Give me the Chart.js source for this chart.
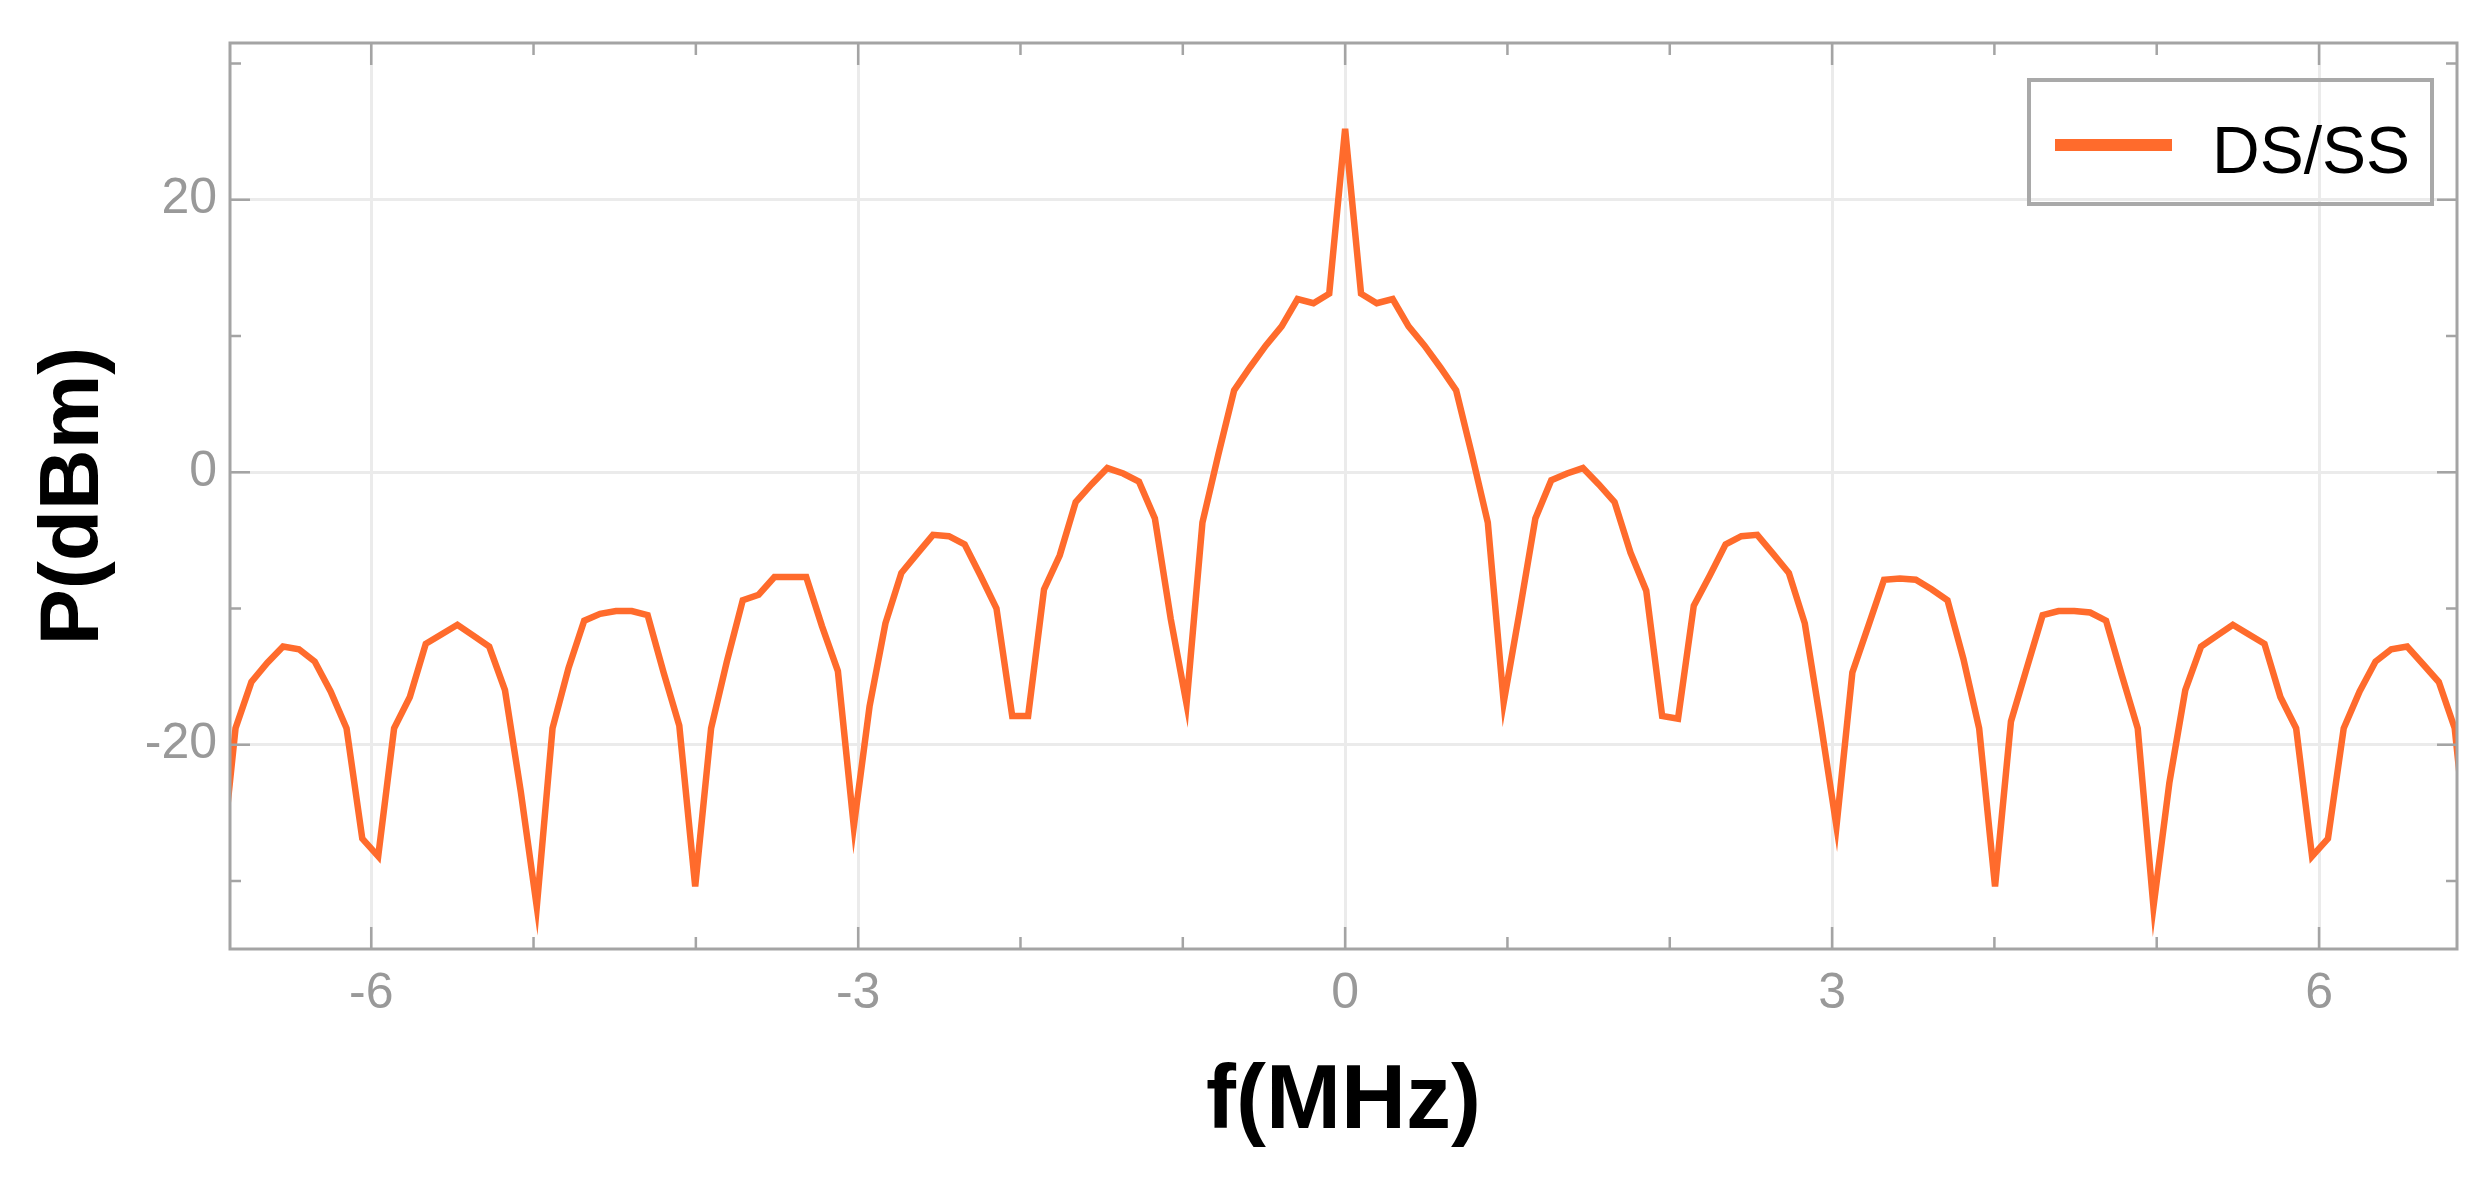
<!DOCTYPE html>
<html>
<head>
<meta charset="utf-8">
<title>DS/SS spectrum</title>
<script src="https://cdn.jsdelivr.net/npm/chart.js@4.4.1/dist/chart.umd.min.js"></script>
<style>
	html, body { margin: 0; padding: 0; background: #ffffff; }
	#chartBox { width: 2490px; height: 1177px; position: relative; }
</style>
</head>
<body>
<div id="chartBox"><canvas id="spectrumChart"></canvas></div>
<script>
"use strict";

const seriesLabel = "DS/SS";

// frequency bins (MHz)
const frequencies = [
	-6.934, -6.836, -6.738, -6.641, -6.543, -6.445, -6.348, -6.250, -6.152, -6.055,
	-5.957, -5.859, -5.762, -5.664, -5.566, -5.469, -5.371, -5.273, -5.176, -5.078,
	-4.980, -4.883, -4.785, -4.688, -4.590, -4.492, -4.395, -4.297, -4.199, -4.102,
	-4.004, -3.906, -3.809, -3.711, -3.613, -3.516, -3.418, -3.320, -3.223, -3.125,
	-3.027, -2.930, -2.832, -2.734, -2.637, -2.539, -2.441, -2.344, -2.246, -2.148,
	-2.051, -1.953, -1.855, -1.758, -1.660, -1.563, -1.465, -1.367, -1.270, -1.172,
	-1.074, -0.977, -0.879, -0.781, -0.684, -0.586, -0.488, -0.391, -0.293, -0.195,
	-0.098, 0,
	0.098, 0.195, 0.293, 0.391, 0.488, 0.586, 0.684, 0.781, 0.879, 0.977,
	1.074, 1.172, 1.270, 1.367, 1.465, 1.563, 1.660, 1.758, 1.855, 1.953,
	2.051, 2.148, 2.246, 2.344, 2.441, 2.539, 2.637, 2.734, 2.832, 2.930,
	3.027, 3.125, 3.223, 3.320, 3.418, 3.516, 3.613, 3.711, 3.809, 3.906,
	4.004, 4.102, 4.199, 4.297, 4.395, 4.492, 4.590, 4.688, 4.785, 4.883,
	4.980, 5.078, 5.176, 5.273, 5.371, 5.469, 5.566, 5.664, 5.762, 5.859,
	5.957, 6.055, 6.152, 6.250, 6.348, 6.445, 6.543, 6.641, 6.738, 6.836,
	6.934
];

// power (dBm) at each bin
const powers = [
	-30, -18.8, -15.4, -14.0, -12.8, -13.0, -13.9, -16.1, -18.8, -26.9,
	-28.2, -18.8, -16.5, -12.6, -11.9, -11.2, -12.0, -12.8, -16.0, -23.5,
	-31.9, -18.8, -14.4, -10.9, -10.4, -10.2, -10.2, -10.5, -14.7, -18.6,
	-30.4, -18.8, -13.9, -9.4, -9.0, -7.7, -7.7, -7.7, -11.3, -14.6,
	-26.0, -17.2, -11.1, -7.4, -6.0, -4.6, -4.7, -5.3, -7.6, -10.0,
	-17.9, -17.9, -8.6, -6.1, -2.2, -0.9, 0.3, -0.1, -0.7, -3.4,
	-10.8, -17.0, -3.7, 1.3, 6.0, 7.7, 9.3, 10.7, 12.7, 12.4,
	13.1, 25.2,
	13.1, 12.4, 12.7, 10.7, 9.3, 7.7, 6.0, 1.3, -3.7, -16.9,
	-10.3, -3.4, -0.6, -0.1, 0.3, -0.9, -2.2, -5.9, -8.7, -17.9,
	-18.1, -9.8, -7.6, -5.3, -4.7, -4.6, -6.0, -7.4, -11.1, -18.4,
	-26.0, -14.7, -11.3, -7.9, -7.8, -7.9, -8.6, -9.4, -13.7, -18.8,
	-30.4, -18.3, -14.4, -10.5, -10.2, -10.2, -10.3, -10.9, -14.9, -18.8,
	-31.9, -22.8, -16.0, -12.8, -12.0, -11.2, -11.9, -12.6, -16.5, -18.8,
	-28.2, -26.9, -18.8, -16.1, -13.9, -13.0, -12.8, -14.1, -15.4, -18.8,
	-30
];

const xRange = [-6.87, 6.85];
const yRange = [-35, 31.5];
const xMinorTicks = [-6, -5, -4, -3, -2, -1, 0, 1, 2, 3, 4, 5, 6];
const xMajorTicks = [-6, -3, 0, 3, 6];
const yMinorTicks = [-30, -20, -10, 0, 10, 20, 30];
const yMajorTicks = [-20, 0, 20];

const fontFamily = "'Liberation Sans', Arial, Helvetica, sans-serif";
const frameColor = "#a4a4a4";
const gridColor = "#ebebeb";
const tickLabelColor = "#999999";
const lineColor = "#ff6b2c";

const frameAndTicksPlugin = {
	id: "frameAndTicks",
	afterDraw: chart => {
		let ctx = chart.ctx;
		let area = chart.chartArea;
		let xScale = chart.scales.x;
		let yScale = chart.scales.y;
		ctx.save();
		ctx.strokeStyle = frameColor;
		ctx.lineWidth = 3;
		ctx.strokeRect(area.left, area.top, area.right - area.left, area.bottom - area.top);
		ctx.lineWidth = 2.5;
		ctx.beginPath();
		for (let value of xMinorTicks) {
			let x = xScale.getPixelForValue(value);
			let length = xMajorTicks.includes(value) ? 22 : 12;
			ctx.moveTo(x, area.bottom);
			ctx.lineTo(x, area.bottom - length);
			ctx.moveTo(x, area.top);
			ctx.lineTo(x, area.top + length);
		}
		for (let value of yMinorTicks) {
			let y = yScale.getPixelForValue(value);
			let length = yMajorTicks.includes(value) ? 20 : 11;
			ctx.moveTo(area.left, y);
			ctx.lineTo(area.left + length, y);
			ctx.moveTo(area.right, y);
			ctx.lineTo(area.right - length, y);
		}
		ctx.stroke();
		ctx.restore();
	}
};

const insideLegendPlugin = { // legend box drawn inside the plot, top right, without fill
	id: "insideLegend",
	afterDraw: chart => {
		let ctx = chart.ctx;
		let area = chart.chartArea;
		let dataset = chart.data.datasets[0];
		let box = { left: area.right - 428, top: area.top + 37, width: 403, height: 124 };
		ctx.save();
		ctx.strokeStyle = "#a9a9a9";
		ctx.lineWidth = 4;
		ctx.strokeRect(box.left, box.top, box.width, box.height);
		ctx.strokeStyle = dataset.borderColor;
		ctx.lineWidth = 12;
		ctx.beginPath();
		ctx.moveTo(box.left + 26, box.top + 65);
		ctx.lineTo(box.left + 143, box.top + 65);
		ctx.stroke();
		ctx.fillStyle = "#000000";
		ctx.font = "66px " + fontFamily;
		ctx.textBaseline = "alphabetic";
		ctx.textAlign = "left";
		ctx.fillText(dataset.label, box.left + 183, box.top + 93);
		ctx.restore();
	}
};

const buildSpectrumChart = () => {
	let canvas = document.querySelector("canvas#spectrumChart");
	new Chart(canvas, {
		type: "line",
		data: {
			datasets: [{
				label: seriesLabel,
				data: frequencies.map((frequency, index) => ({ x: frequency, y: powers[index] })),
				borderColor: lineColor,
				borderWidth: 6.5,
				pointRadius: 0,
				tension: 0,
				fill: false,
				clip: 0
			}]
		},
		options: {
			responsive: true,
			maintainAspectRatio: false,
			animation: false,
			layout: {
				padding: { top: 35, right: 33, bottom: 0, left: 0 }
			},
			scales: {
				x: {
					type: "linear",
					min: xRange[0],
					max: xRange[1],
					afterBuildTicks: scale => {
						scale.ticks = xMajorTicks.map(value => ({ value: value }));
					},
					afterFit: scale => {
						scale.height = 228;
					},
					grid: { color: gridColor, lineWidth: 3, drawTicks: false },
					border: { display: false },
					ticks: {
						color: tickLabelColor,
						font: { family: fontFamily, size: 50 },
						padding: 15,
						autoSkip: false,
						maxRotation: 0
					},
					title: {
						display: true,
						text: "f(MHz)",
						color: "#000000",
						font: { family: fontFamily, size: 90, weight: "bold" },
						padding: { top: 0, bottom: 20 }
					}
				},
				y: {
					type: "linear",
					min: yRange[0],
					max: yRange[1],
					afterBuildTicks: scale => {
						scale.ticks = yMajorTicks.map(value => ({ value: value }));
					},
					afterFit: scale => {
						scale.width = 230;
					},
					grid: { color: gridColor, lineWidth: 3, drawTicks: false },
					border: { display: false },
					ticks: {
						color: tickLabelColor,
						font: { family: fontFamily, size: 50 },
						padding: 13
					},
					title: {
						display: true,
						text: "P(dBm)",
						color: "#000000",
						font: { family: fontFamily, size: 84, weight: "bold" },
						padding: { top: 24, bottom: 0 }
					}
				}
			},
			plugins: {
				legend: { display: false },
				tooltip: { enabled: false }
			}
		},
		plugins: [frameAndTicksPlugin, insideLegendPlugin]
	});
};

buildSpectrumChart();
</script>
</body>
</html>
